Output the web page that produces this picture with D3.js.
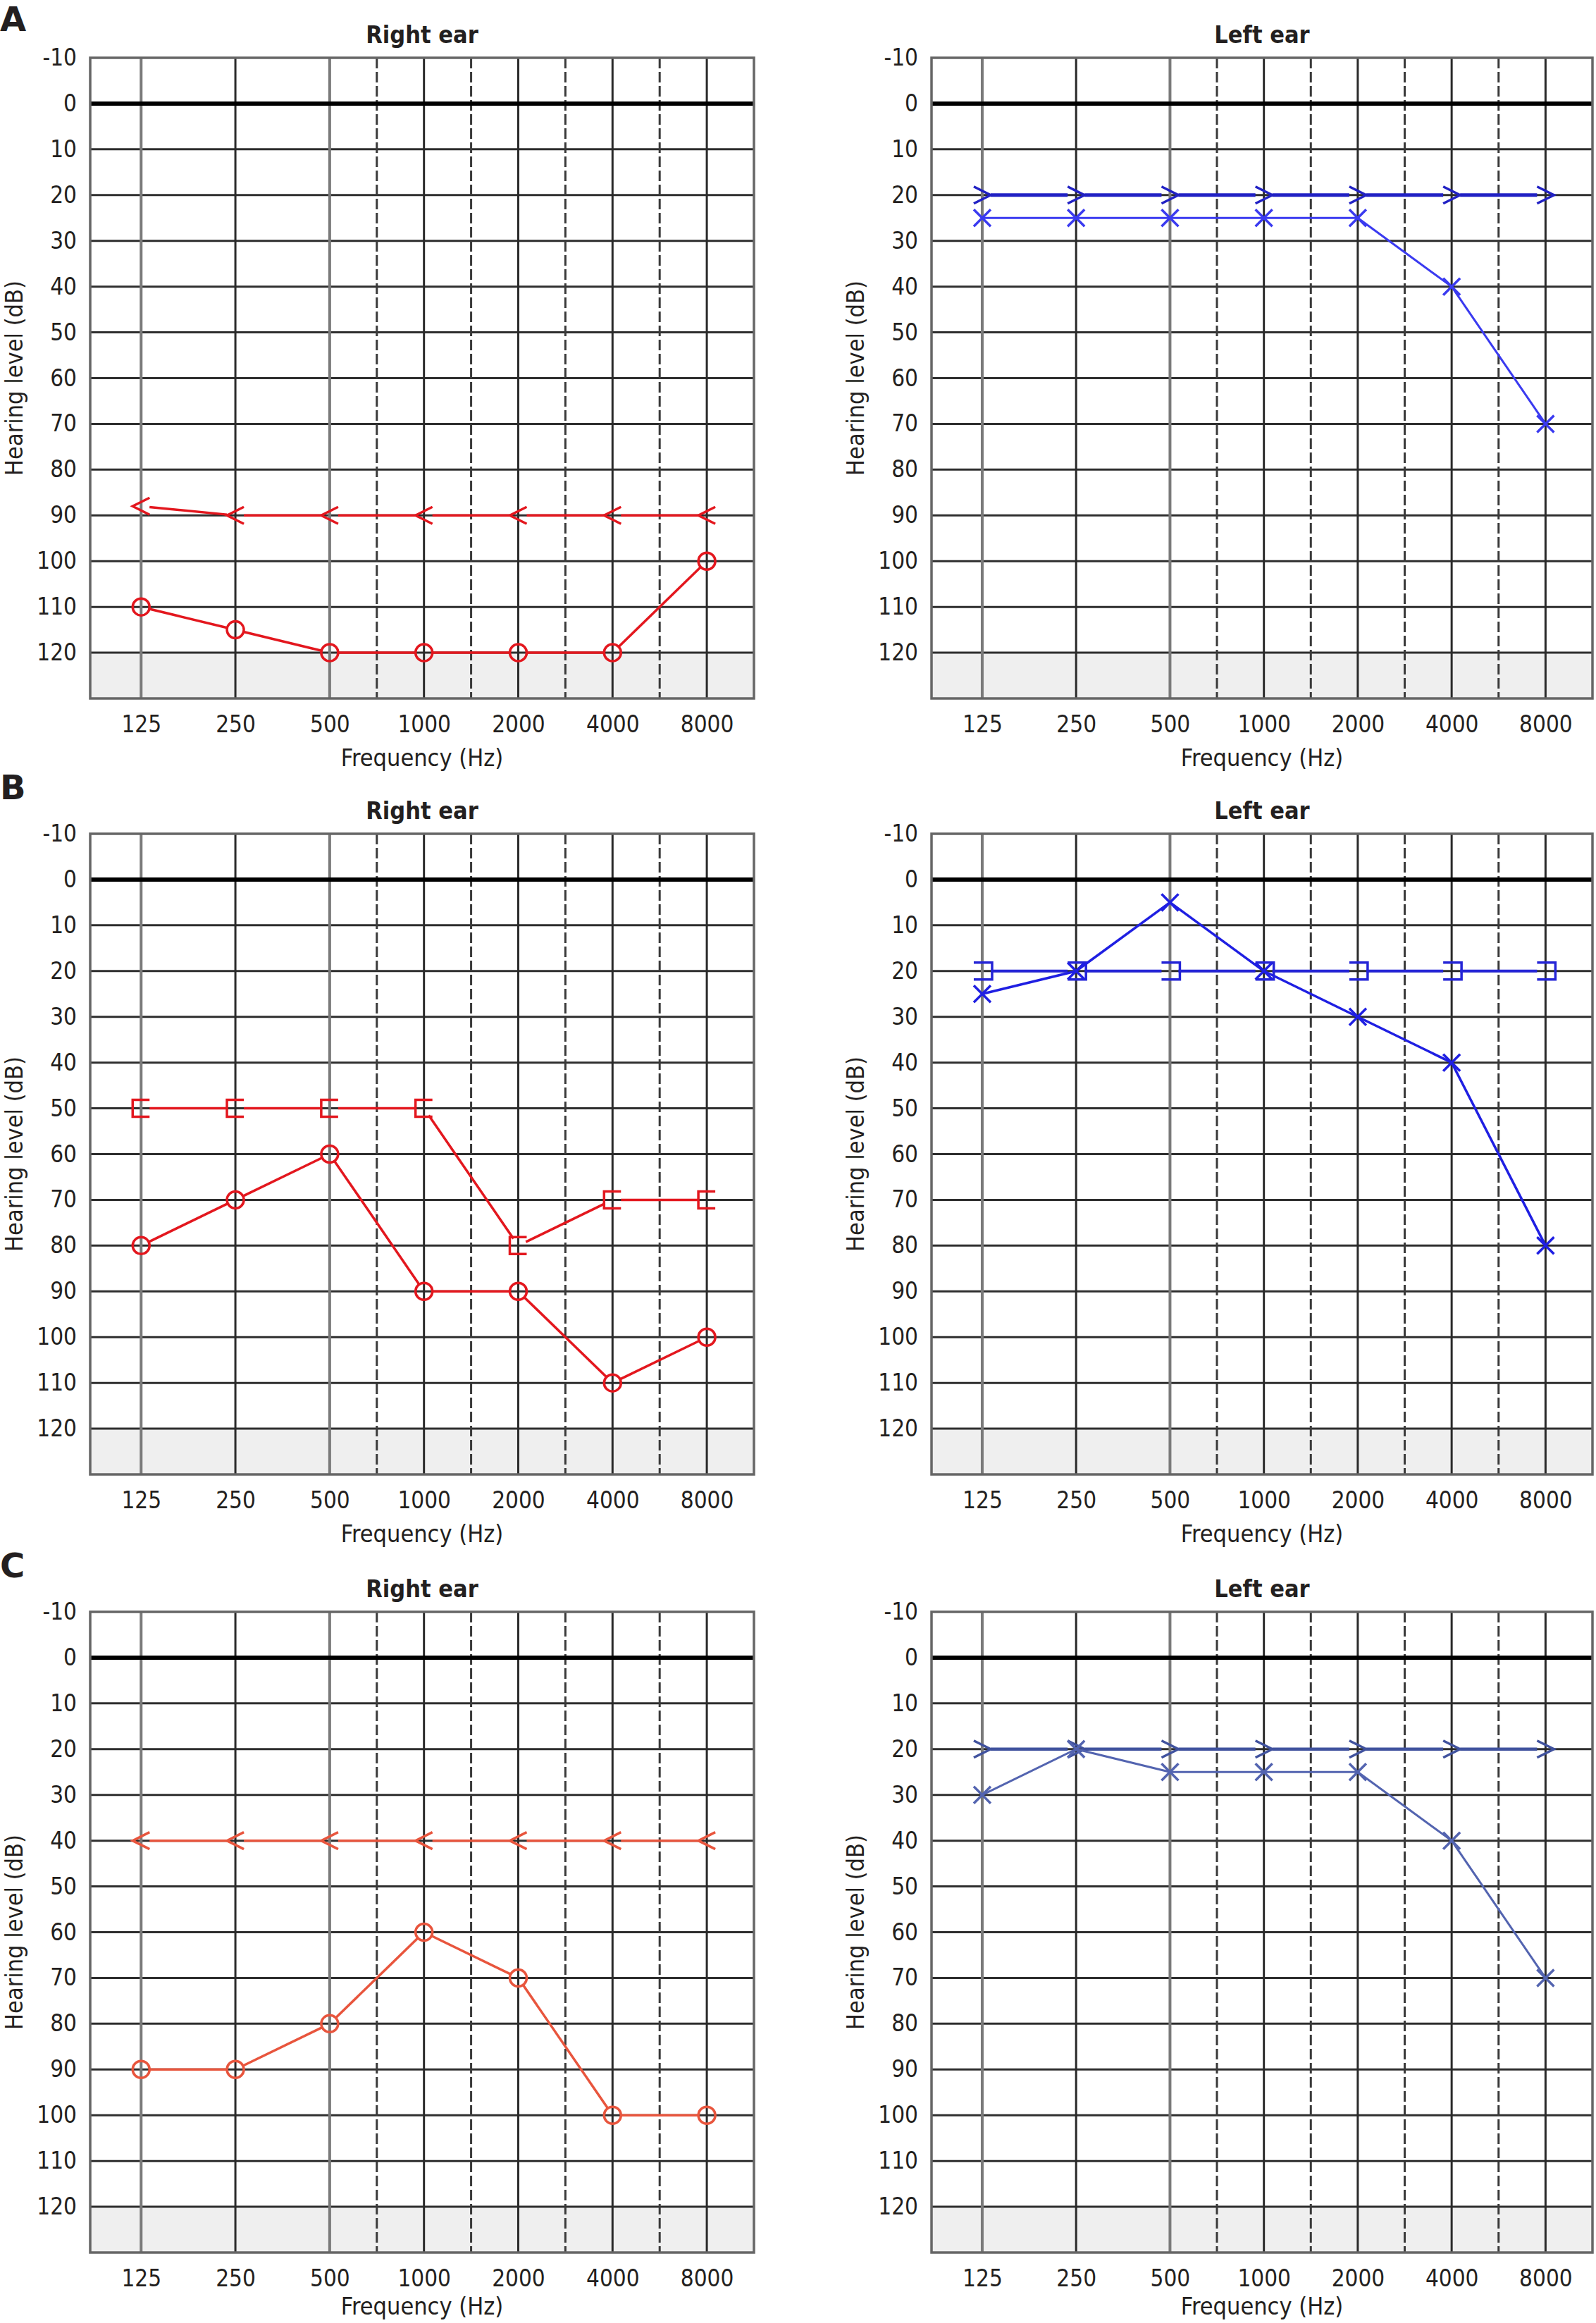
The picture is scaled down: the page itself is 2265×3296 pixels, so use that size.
<!DOCTYPE html>
<html>
<head>
<meta charset="utf-8">
<script src="https://cdn.jsdelivr.net/npm/d3@7"></script>
<style>
  body { margin: 0; background: #fff; }
  text { font-family: "DejaVu Sans Condensed", "DejaVu Sans", sans-serif; font-stretch: condensed; fill: #231f20; }
</style>
</head>
<body>
<svg id="chart" width="2265" height="3296"></svg>
<script>
// audiogram frequencies and hearing level ticks
const freqs = [125, 250, 500, 1000, 2000, 4000, 8000];
const midFreqs = [750, 1500, 3000, 6000];
const levelTicks = [-10, 0, 10, 20, 30, 40, 50, 60, 70, 80, 90, 100, 110, 120];

// A
const aRightAir = [110, 115, 120, 120, 120, 120, 100];
const aRightBone = [88, 90, 90, 90, 90, 90, 90];
const aLeftAir = [25, 25, 25, 25, 25, 40, 70];
const aLeftBone = [20, 20, 20, 20, 20, 20, 20];
// B
const bRightAir = [80, 70, 60, 90, 90, 110, 100];
const bRightMasked = [50, 50, 50, 50, 80, 70, 70];
const bLeftAir = [25, 20, 5, 20, 30, 40, 80];
const bLeftMasked = [20, 20, 20, 20, 20, 20, 20];
// C
const cRightAir = [90, 90, 80, 60, 70, 100, 100];
const cRightBone = [40, 40, 40, 40, 40, 40, 40];
const cLeftAir = [30, 20, 25, 25, 25, 40, 70];
const cLeftBone = [20, 20, 20, 20, 20, 20, 20];

const red = '#e3171e', blue = '#1f1fe2';
const redC = '#e8553d', blueC = '#4658a6';

const panels = [
  {letter: 'A', row: 0, col: 0, title: 'Right ear', series: [
    {values: aRightBone, marker: '<', color: red, width: 3.5},
    {values: aRightAir, marker: 'o', color: red, width: 3.5}]},
  {row: 0, col: 1, title: 'Left ear', series: [
    {values: aLeftBone, marker: '>', color: '#2121c4', width: 5},
    {values: aLeftAir, marker: 'x', color: '#3a3af0', width: 3}]},
  {letter: 'B', row: 1, col: 0, title: 'Right ear', series: [
    {values: bRightMasked, marker: '[', color: red, width: 3.5},
    {values: bRightAir, marker: 'o', color: red, width: 3.5}]},
  {row: 1, col: 1, title: 'Left ear', series: [
    {values: bLeftMasked, marker: ']', color: '#2424d6', width: 4},
    {values: bLeftAir, marker: 'x', color: blue, width: 3.5}]},
  {letter: 'C', row: 2, col: 0, title: 'Right ear', series: [
    {values: cRightBone, marker: '<', color: redC, width: 3.5},
    {values: cRightAir, marker: 'o', color: redC, width: 3.5}]},
  {row: 2, col: 1, title: 'Left ear', series: [
    {values: cLeftBone, marker: '>', color: '#40529e', width: 4.5},
    {values: cLeftAir, marker: 'x', color: '#5364b0', width: 3}]}
];

const svg = d3.select('#chart');
svg.append('rect').attr('width', 2265).attr('height', 3296).attr('fill', '#fff');

const cols = [{left: 128, right: 1070}, {left: 1322, right: 2260}];
const rowTops = [82, 1183, 2287];
const letterBase = [44, 1134, 2238];
const plotH = 909;

// marker shapes in local coords
const shapes = {
  '<': 'M12,-12L-12,0L12,12',
  '>': 'M-12,-12L12,0L-12,12',
  'x': 'M-12,-12L12,12M-12,12L12,-12',
  '[': 'M12,-12L-12,-12L-12,12L12,12',
  ']': 'M-12,-12L14,-12L14,12L-12,12'
};
const trims = {'<': 12, '>': 12, 'x': 0, '[': 12, ']': 12, 'o': 12};

function trimmedSegments(pts, t) {
  const out = [];
  for (let i = 0; i < pts.length - 1; i++) {
    const [x0, y0] = pts[i], [x1, y1] = pts[i + 1];
    const dx = x1 - x0, dy = y1 - y0, len = Math.hypot(dx, dy);
    const ux = dx / len, uy = dy / len;
    out.push([[x0 + ux * t, y0 + uy * t], [x1 - ux * t, y1 - uy * t]]);
  }
  return out;
}

panels.forEach(function(p) {
  const c = cols[p.col];
  const top = rowTops[p.row], bottom = top + plotH;
  // half an octave of room each side
  const x = d3.scaleLog().domain([125 / Math.pow(2, 0.54), 8000 * Math.SQRT2]).range([c.left, c.right]);
  const y = d3.scaleLinear().domain([-10, 130]).range([top, bottom]);
  const g = svg.append('g');

  if (p.letter) {
    g.append('text').attr('x', 0).attr('y', letterBase[p.row])
      .attr('font-size', 48).attr('font-weight', 'bold')
      .style('font-family', '"DejaVu Sans", sans-serif').style('font-stretch', 'normal')
      .text(p.letter);
  }

  g.append('text').attr('x', (c.left + c.right) / 2).attr('y', top - 21)
    .attr('text-anchor', 'middle').attr('font-size', 34).attr('font-weight', 'bold')
    .text(p.title);

  // masked region below 120
  g.append('rect').attr('x', c.left).attr('y', y(120))
    .attr('width', c.right - c.left).attr('height', y(130) - y(120)).attr('fill', '#efefef');

  // horizontal grid
  g.selectAll('.hl').data(levelTicks.filter(d => d !== 0 && d !== -10)).enter().append('line')
    .attr('x1', c.left).attr('x2', c.right)
    .attr('y1', d => y(d)).attr('y2', d => y(d))
    .attr('stroke', '#2e2e2e').attr('stroke-width', 3);

  // octave lines
  g.selectAll('.vl').data(freqs).enter().append('line')
    .attr('x1', d => x(d)).attr('x2', d => x(d))
    .attr('y1', top).attr('y2', bottom)
    .attr('stroke', d => (d === 125 || d === 500) ? '#7a7a7a' : '#2a2a2a')
    .attr('stroke-width', d => (d === 125 || d === 500) ? 4 : 3);

  // inter-octave frequencies sit midway between octaves on the audiogram
  g.selectAll('.ml').data(midFreqs).enter().append('line')
    .attr('x1', d => x(d * Math.SQRT2 / 1.5)).attr('x2', d => x(d * Math.SQRT2 / 1.5))
    .attr('y1', top).attr('y2', bottom)
    .attr('stroke', '#3a3a3a').attr('stroke-width', 3).attr('stroke-dasharray', '15,5');

  g.append('line').attr('x1', c.left).attr('x2', c.right)
    .attr('y1', y(0)).attr('y2', y(0)).attr('stroke', '#000').attr('stroke-width', 6);

  g.append('rect').attr('x', c.left).attr('y', top)
    .attr('width', c.right - c.left).attr('height', plotH)
    .attr('fill', 'none').attr('stroke', '#666').attr('stroke-width', 3.5);

  // axes
  const yAxis = g.append('g').attr('transform', 'translate(' + c.left + ',0)')
    .call(d3.axisLeft(y).tickValues(levelTicks).tickFormat(d => String(d)).tickSize(0).tickPadding(19));
  yAxis.select('.domain').remove();
  yAxis.selectAll('text').attr('font-size', 33).attr('fill', '#231f20')
    .style('font-family', '"DejaVu Sans Condensed", "DejaVu Sans", sans-serif');

  const xAxis = g.append('g').attr('transform', 'translate(0,' + bottom + ')')
    .call(d3.axisBottom(x).tickValues(freqs).tickFormat(d => String(d)).tickSize(0).tickPadding(25));
  xAxis.select('.domain').remove();
  xAxis.selectAll('text').attr('font-size', 33).attr('fill', '#231f20')
    .style('font-family', '"DejaVu Sans Condensed", "DejaVu Sans", sans-serif');

  // keep the last row's label inside the page
  g.append('text').attr('x', (c.left + c.right) / 2).attr('y', Math.min(bottom + 96, 3284))
    .attr('text-anchor', 'middle').attr('font-size', 34).text('Frequency (Hz)');

  g.append('text')
    .attr('transform', 'translate(' + (c.left - 96) + ',' + ((top + bottom) / 2) + ') rotate(-90)')
    .attr('text-anchor', 'middle').attr('font-size', 34).text('Hearing level (dB)');

  // series
  p.series.forEach(function(s) {
    const pts = s.values.map((v, i) => [x(freqs[i]), y(v)]);
    const line = d3.line();
    g.selectAll(null).data(trimmedSegments(pts, trims[s.marker])).enter().append('path')
      .attr('d', d => line(d)).attr('fill', 'none')
      .attr('stroke', s.color).attr('stroke-width', s.width);
    if (s.marker === 'o') {
      g.selectAll(null).data(pts).enter().append('circle')
        .attr('cx', d => d[0]).attr('cy', d => d[1]).attr('r', 12)
        .attr('fill', 'none').attr('stroke', s.color).attr('stroke-width', 3.5);
    } else {
      g.selectAll(null).data(pts).enter().append('path')
        .attr('transform', d => 'translate(' + d[0] + ',' + d[1] + ')')
        .attr('d', shapes[s.marker]).attr('fill', 'none')
        .attr('stroke', s.color).attr('stroke-width', 3.5);
    }
  });
});
</script>
</body>
</html>
